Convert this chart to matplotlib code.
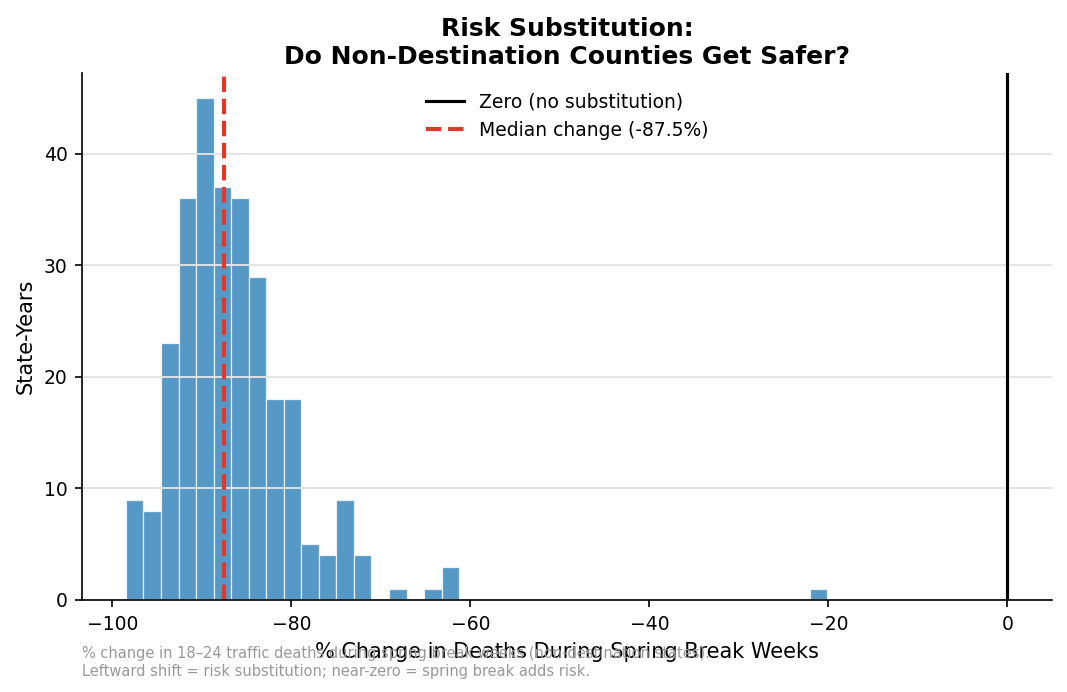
import numpy as np
import matplotlib
matplotlib.use('Agg')
import matplotlib.pyplot as plt

# histogram: 40 equal bins between min and max change
pct_min = -98.5
pct_max = -20.1
counts = [9, 8, 23, 36, 45, 37, 36, 29, 18, 18,
          5, 4, 9, 4, 0, 1, 0, 1, 3, 0,
          0, 0, 0, 0, 0, 0, 0, 0, 0, 0,
          0, 0, 0, 0, 0, 0, 0, 0, 0, 1]
median_change = -87.5

edges = np.linspace(pct_min, pct_max, len(counts) + 1)
centers = (edges[:-1] + edges[1:]) / 2

fig = plt.figure(figsize=(1067/150, 692/150), dpi=150)
ax = fig.add_axes([0.0769, 0.133, 0.9091, 0.7615])

ax.hist(centers, bins=edges, weights=counts, color='#1f77b4', alpha=0.75,
        edgecolor='white', linewidth=0.6)
ax.axvline(0, color='black', lw=1.5, label='Zero (no substitution)')
ax.axvline(median_change, color='#e0392b', lw=2, ls='--',
           label=f'Median change ({median_change:.1f}%)')

ax.set_xlim(-103.4, 5)
ax.set_xlabel('% Change in Deaths During Spring Break Weeks', fontsize=10)
ax.set_ylabel('State-Years', fontsize=10)
ax.set_title('Risk Substitution:\nDo Non-Destination Counties Get Safer?',
             fontsize=12, fontweight='bold', pad=4.5)
ax.grid(axis='y', color='#e3e3e3', lw=0.9)
ax.spines['top'].set_visible(False)
ax.spines['right'].set_visible(False)
ax.tick_params(labelsize=9)
ax.legend(loc='upper center', frameon=False, fontsize=9,
          bbox_to_anchor=(0.5, 0.995))

fig.text(0.0769, 0.0195,
         '% change in 18\u201324 traffic deaths during spring break weeks (non-destination states).\n'
         'Leftward shift = risk substitution; near-zero = spring break adds risk.',
         fontsize=7, color='#999999', va='bottom', ha='left')

fig.savefig('out.png', dpi=150)
